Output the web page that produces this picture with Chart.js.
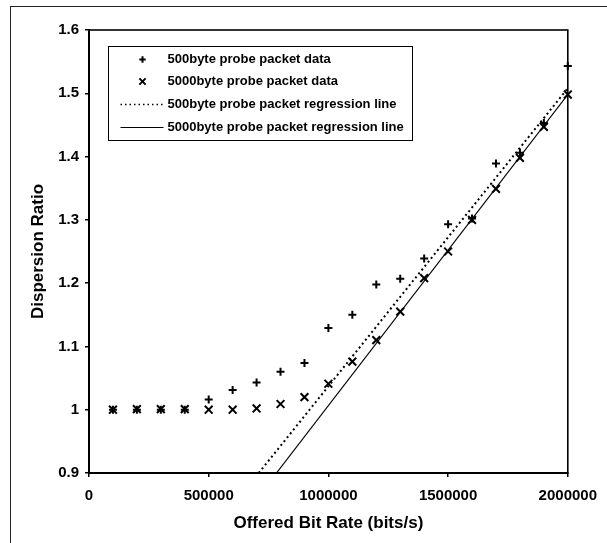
<!DOCTYPE html>
<html><head><meta charset="utf-8">
<script src="https://cdn.jsdelivr.net/npm/chart.js@4/dist/chart.umd.min.js"></script>
<style>html,body{margin:0;padding:0;background:#fff;overflow:hidden;}</style>
</head><body>
<canvas id="c" width="607" height="543"></canvas>
<script>
// ---- data ----
const bitRates = [100000, 200000, 300000, 400000, 500000, 600000, 700000, 800000, 900000, 1000000,
                  1100000, 1200000, 1300000, 1400000, 1500000, 1600000, 1700000, 1800000, 1900000, 2000000];
const ratio500 = [1.000, 1.000, 1.000, 1.000, 1.016, 1.031, 1.043, 1.060, 1.074, 1.129,
                  1.150, 1.198, 1.207, 1.239, 1.293, 1.302, 1.389, 1.406, 1.453, 1.543];
const ratio5000 = [1.000, 1.001, 1.001, 1.001, 1.000, 1.000, 1.002, 1.009, 1.020, 1.041,
                   1.076, 1.110, 1.155, 1.208, 1.250, 1.300, 1.349, 1.398, 1.447, 1.498];
const fit500Rates = [709000, 2000000];
const fit500Ratios = [0.9, 1.508];
const fit5000Rates = [783000, 2000000];
const fit5000Ratios = [0.9, 1.498];
const seriesNames = ['500byte probe packet data', '5000byte probe packet data',
                     '500byte probe packet regression line', '5000byte probe packet regression line'];
const xTitle = 'Offered Bit Rate (bits/s)';
const yTitle = 'Dispersion Ratio';

const toPts = (xs, ys) => xs.map((x, i) => ({x: x, y: ys[i]}));
const FONT = "'Liberation Sans', Arial, sans-serif";

const framePlugin = {
  id: 'frame',
  beforeDraw(chart) {
    const ctx = chart.ctx;
    ctx.save();
    ctx.fillStyle = '#fff';
    ctx.fillRect(0, 0, chart.width, chart.height);
    ctx.strokeStyle = '#222';
    ctx.lineWidth = 1;
    ctx.strokeRect(10.5, 6.5, 800, 800);
    ctx.restore();
  },
  afterDraw(chart) {
    const a = chart.chartArea, ctx = chart.ctx;
    ctx.save();
    ctx.strokeStyle = '#000';
    ctx.lineWidth = 1.6;
    ctx.strokeRect(a.left, a.top, a.right - a.left, a.bottom - a.top);
    // legend inside plot
    const bx = a.left + 19.5, by = a.top + 16.5, bw = 304, bh = 94;
    ctx.fillStyle = '#fff';
    ctx.fillRect(bx, by, bw, bh);
    ctx.lineWidth = 1;
    ctx.strokeRect(bx, by, bw, bh);
    const rows = [13, 35, 58, 81];
    chart.data.datasets.forEach((ds, i) => {
      const cy = by + rows[i];
      ctx.strokeStyle = '#000';
      if (ds.showLine) {
        ctx.lineWidth = ds.borderDash ? 1.5 : 1;
        ctx.setLineDash(ds.borderDash ? [1.5, 3] : []);
        ctx.beginPath();
        ctx.moveTo(bx + 12, cy);
        ctx.lineTo(bx + 55, cy);
        ctx.stroke();
        ctx.setLineDash([]);
      } else {
        ctx.lineWidth = 2;
        Chart.helpers.drawPoint(ctx, {pointStyle: ds.pointStyle, radius: ds.pointRadius * 0.8, borderWidth: 2, rotation: 0}, bx + 34, cy);
      }
      ctx.fillStyle = '#000';
      ctx.font = 'bold 13px ' + FONT;
      ctx.textBaseline = 'middle';
      ctx.textAlign = 'left';
      ctx.fillText(ds.label, bx + 59, cy);
    });
    ctx.restore();
  }
};

new Chart(document.getElementById('c'), {
  type: 'scatter',
  data: {
    datasets: [
      {label: seriesNames[0], data: toPts(bitRates, ratio500), pointStyle: 'cross', pointRadius: 4,
       borderWidth: 2, borderColor: '#000', backgroundColor: '#000', showLine: false, clip: false},
      {label: seriesNames[1], data: toPts(bitRates, ratio5000), pointStyle: 'crossRot', pointRadius: 5.5,
       borderWidth: 2, borderColor: '#000', backgroundColor: '#000', showLine: false, clip: false},
      {label: seriesNames[2], data: toPts(fit500Rates, fit500Ratios), showLine: true, pointRadius: 0,
       borderWidth: 2, borderDash: [2, 3], borderColor: '#000', fill: false},
      {label: seriesNames[3], data: toPts(fit5000Rates, fit5000Ratios), showLine: true, pointRadius: 0,
       borderWidth: 1.2, borderColor: '#000', fill: false}
    ]
  },
  options: {
    responsive: false,
    animation: false,
    devicePixelRatio: 1,
    layout: {padding: {top: 30, right: 38, left: 0, bottom: 0}},
    plugins: {legend: {display: false}, tooltip: {enabled: false}},
    scales: {
      x: {
        type: 'linear', min: 0, max: 2000000,
        afterFit(s) { s.height = 70; },
        ticks: {stepSize: 500000, color: '#000', padding: 10, font: {family: FONT, size: 15, weight: 'bold'},
                callback: v => String(v), maxRotation: 0},
        grid: {display: true, drawOnChartArea: false, drawTicks: true, tickLength: 4, color: '#000', lineWidth: 1.5},
        border: {display: true, color: '#000', width: 2},
        title: {display: true, text: xTitle, color: '#000', font: {family: FONT, size: 17, weight: 'bold'},
                padding: {top: 0, bottom: 9}}
      },
      y: {
        type: 'linear', min: 0.9, max: 1.6,
        afterFit(s) { s.width = 89; },
        ticks: {stepSize: 0.1, color: '#000', padding: 6, font: {family: FONT, size: 15, weight: 'bold'},
                callback: v => String(+v.toFixed(1))},
        grid: {display: true, drawOnChartArea: false, drawTicks: true, tickLength: 4, color: '#000', lineWidth: 1.5},
        border: {display: true, color: '#000', width: 2},
        title: {display: true, text: yTitle, color: '#000', font: {family: FONT, size: 17, weight: 'bold'},
                padding: {top: 28, bottom: 0}}
      }
    }
  },
  plugins: [framePlugin]
});
</script>
</body></html>
